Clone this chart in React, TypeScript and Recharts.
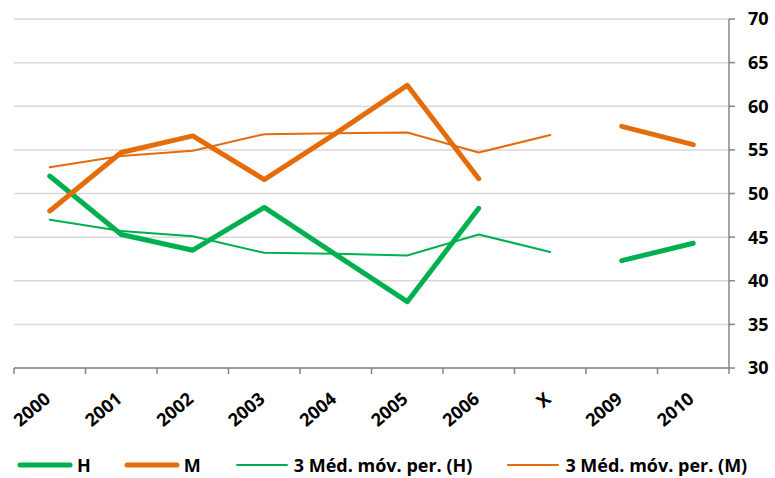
import { LineChart, Line, XAxis, YAxis, CartesianGrid, Legend } from "recharts"

const years = ["2000", "2001", "2002", "2003", "2004", "2005", "2006", "X", "2009", "2010"]
const hValues = [52.0, 45.3, 43.5, 48.4, 43.0, 37.6, 48.3, null, 42.3, 44.3]
const mValues = [48.0, 54.7, 56.6, 51.6, 56.9, 62.4, 51.7, null, 57.7, 55.6]
const hMovingAvg = [47.0, 45.7, 45.1, 43.2, 43.1, 42.9, 45.3, 43.3, null, null]
const mMovingAvg = [53.0, 54.3, 54.9, 56.8, 56.9, 57.0, 54.7, 56.7, null, null]
const yTicks = [30, 35, 40, 45, 50, 55, 60, 65, 70]

const GREEN = "#00B050"
const ORANGE = "#E46C0A"
const AXIS = "#868686"
const FONT = "'Open Sans', sans-serif"

const WIDTH = 775
const HEIGHT = 478
const PLOT_LEFT = 14
const PLOT_RIGHT = 729
const BAND = (PLOT_RIGHT - PLOT_LEFT) / years.length

const series = [
  { key: "h", name: "H", color: GREEN, width: 5 },
  { key: "m", name: "M", color: ORANGE, width: 5 },
  { key: "hAvg", name: "3 Méd. móv. per. (H)", color: GREEN, width: 2 },
  { key: "mAvg", name: "3 Méd. móv. per. (M)", color: ORANGE, width: 2 },
]

const data = years.map((year, i) => ({
  year,
  h: hValues[i],
  m: mValues[i],
  hAvg: hMovingAvg[i],
  mAvg: mMovingAvg[i],
}))

// excel-style ticks between categories + rotated labels
function YearTick(props: any) {
  const { x, y, payload, index } = props
  const axisY = y - 8
  const last = index === years.length - 1
  return (
    <g>
      <line x1={x - BAND / 2} x2={x - BAND / 2} y1={axisY} y2={axisY + 6} stroke={AXIS} strokeWidth={1.5} />
      {last && (
        <line x1={x + BAND / 2} x2={x + BAND / 2} y1={axisY} y2={axisY + 6} stroke={AXIS} strokeWidth={1.5} />
      )}
      <g transform={`translate(${x + 2},${y + 25}) rotate(-40)`}>
        <text textAnchor="end" fontFamily={FONT} fontWeight={700} fontSize={18} fill="#000">
          {payload.value}
        </text>
      </g>
    </g>
  )
}

function LegendContent() {
  return (
    <div
      style={{
        display: "flex",
        gap: 33,
        paddingLeft: 17,
        paddingTop: 15,
        fontFamily: FONT,
        fontWeight: 700,
        fontSize: 18,
        color: "#000",
      }}
    >
      {series.map((s) => (
        <div key={s.key} style={{ display: "flex", alignItems: "center", gap: 4 }}>
          <svg width={56} height={8}>
            <line x1={3} x2={53} y1={4} y2={4} stroke={s.color} strokeWidth={s.width} strokeLinecap="round" />
          </svg>
          <span>{s.name}</span>
        </div>
      ))}
    </div>
  )
}

export default function App() {
  return (
    <div style={{ position: "absolute", left: 0, top: 0 }}>
      <LineChart
        width={WIDTH}
        height={HEIGHT}
        data={data}
        margin={{ top: 19, right: 0, left: PLOT_LEFT, bottom: 0 }}
      >
        <CartesianGrid vertical={false} stroke="#D9D9D9" strokeWidth={1.5} />
        <XAxis
          dataKey="year"
          interval={0}
          height={70}
          padding={{ left: BAND / 2, right: BAND / 2 }}
          axisLine={{ stroke: AXIS, strokeWidth: 1.5 }}
          tickLine={false}
          tickSize={6}
          tickMargin={2}
          tick={<YearTick />}
        />
        <YAxis
          orientation="right"
          width={WIDTH - PLOT_RIGHT}
          domain={[30, 70]}
          ticks={yTicks}
          interval={0}
          axisLine={{ stroke: AXIS, strokeWidth: 1.5 }}
          tickLine={{ stroke: AXIS, strokeWidth: 1.5 }}
          tickSize={6}
          tickMargin={13}
          tick={{ fontFamily: FONT, fontWeight: 700, fontSize: 18, fill: "#000" }}
        />
        <Legend
          verticalAlign="bottom"
          height={40}
          wrapperStyle={{ left: 0, width: WIDTH }}
          content={<LegendContent />}
        />
        {series.map((s) => (
          <Line
            key={s.key}
            dataKey={s.key}
            name={s.name}
            type="linear"
            stroke={s.color}
            strokeWidth={s.width}
            strokeLinecap="round"
            strokeLinejoin="round"
            dot={false}
            activeDot={false}
            connectNulls={false}
            isAnimationActive={false}
          />
        ))}
      </LineChart>
    </div>
  )
}
